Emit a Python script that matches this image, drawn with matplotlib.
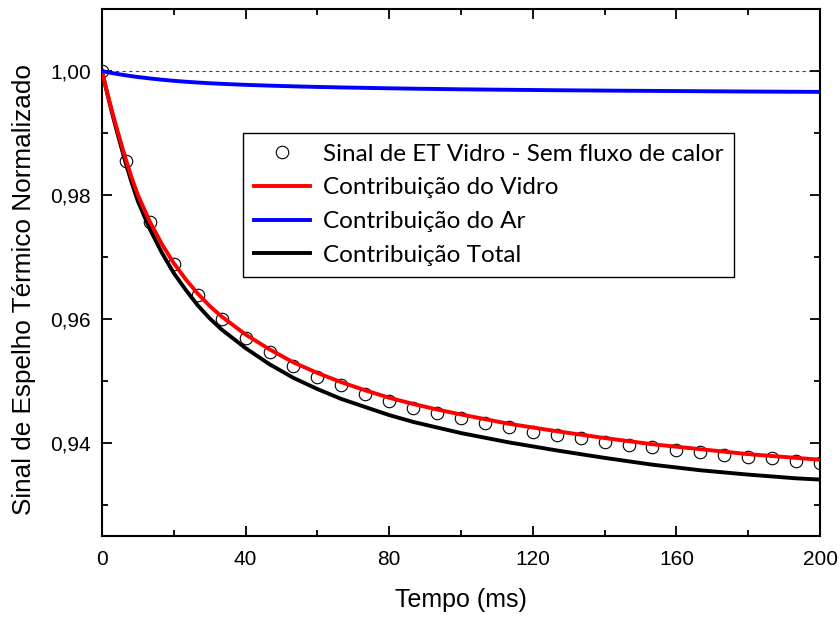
import numpy as np
import matplotlib
matplotlib.use("Agg")
import matplotlib.pyplot as plt
from matplotlib.ticker import MultipleLocator, FuncFormatter

# measured points (circles)
t_pts = [i * 20.0 / 3.0 for i in range(31)]
sinal = [1.0000, 0.9855, 0.9756, 0.9689, 0.9639, 0.9600, 0.9569, 0.9546,
         0.9524, 0.9507, 0.9493, 0.9479, 0.9467, 0.9457, 0.9448, 0.9440,
         0.9432, 0.9425, 0.9418, 0.9413, 0.9408, 0.9402, 0.9397, 0.9393,
         0.9389, 0.9385, 0.9381, 0.9378, 0.9375, 0.9371, 0.9368]

# model curves
t_fit = [0, 1, 2, 3, 4, 5, 6.67, 8.33, 10, 13.33, 16.67, 20, 23.33, 26.67,
         30, 33.33, 40, 46.67, 53.33, 60, 66.67, 73.33, 80, 86.67, 93.33,
         100, 113.33, 126.67, 140, 153.33, 166.67, 180, 193.33, 200]
vidro = [1.0000, 0.9976, 0.9953, 0.9931, 0.9910, 0.9890, 0.9857, 0.9827,
         0.9800, 0.9757, 0.9721, 0.9690, 0.9664, 0.9641, 0.9621, 0.9604,
         0.9575, 0.9551, 0.9530, 0.9513, 0.9498, 0.9485, 0.9473, 0.9463,
         0.9454, 0.9446, 0.9431, 0.9419, 0.9408, 0.9398, 0.9390, 0.9382,
         0.9376, 0.9373]
ar = [1.00000, 0.99988, 0.99976, 0.99965, 0.99955, 0.99945, 0.99930, 0.99916,
      0.99903, 0.99880, 0.99860, 0.99842, 0.99827, 0.99814, 0.99803, 0.99793,
      0.99777, 0.99764, 0.99753, 0.99743, 0.99735, 0.99728, 0.99721, 0.99715,
      0.99710, 0.99705, 0.99697, 0.99690, 0.99684, 0.99679, 0.99674, 0.99669,
      0.99665, 0.99663]
total = [1.0000, 0.9975, 0.9951, 0.9928, 0.9906, 0.9885, 0.9850, 0.9819,
         0.9790, 0.9745, 0.9707, 0.9674, 0.9647, 0.9622, 0.9601, 0.9583,
         0.9553, 0.9527, 0.9505, 0.9487, 0.9471, 0.9458, 0.9445, 0.9434,
         0.9425, 0.9416, 0.9401, 0.9388, 0.9376, 0.9365, 0.9356, 0.9349,
         0.9343, 0.9341]

plt.rcParams['font.family'] = ['Liberation Sans', 'DejaVu Sans']

fig = plt.figure(figsize=(8.4, 6.17), dpi=100)
ax = fig.add_axes([0.1214, 0.1313, 0.8548, 0.8541])

ax.axhline(1.0, color='#444444', lw=0.8, ls=(0, (3, 3)), zorder=1)
ax.plot(t_pts, sinal, 'o', ms=9, mfc='none', mec='black', mew=0.8,
        label='Sinal de ET Vidro - Sem fluxo de calor', zorder=2)
ax.plot(t_fit, total, color='black', lw=2.8, label='Contribuição Total', zorder=3)
ax.plot(t_fit, vidro, color='red', lw=2.8, label='Contribuição do Vidro', zorder=4)
ax.plot(t_fit, ar, color='blue', lw=2.8, label='Contribuição do Ar', zorder=4)

ax.set_xlim(0, 200)
ax.set_ylim(0.925, 1.01)
ax.xaxis.set_major_locator(MultipleLocator(40))
ax.xaxis.set_minor_locator(MultipleLocator(20))
ax.yaxis.set_major_locator(MultipleLocator(0.02))
ax.yaxis.set_minor_locator(MultipleLocator(0.01))
ax.yaxis.set_major_formatter(FuncFormatter(lambda v, p: f"{v:.2f}".replace('.', ',')))

ax.tick_params(which='both', direction='in', top=True, right=True, width=1.3)
ax.tick_params(which='major', length=7, labelsize=15, pad=8)
ax.tick_params(axis='x', which='major', pad=10)
ax.tick_params(which='minor', length=4)
for s in ax.spines.values():
    s.set_linewidth(1.5)

ax.set_xlabel('Tempo (ms)', fontsize=18, labelpad=14)
ax.set_ylabel('Sinal de Espelho Térmico Normalizado', fontsize=18.8)
ax.yaxis.set_label_coords(-0.092, 0.467)

h, l = ax.get_legend_handles_labels()
order = [0, 2, 3, 1]
leg = ax.legend([h[i] for i in order], [l[i] for i in order],
                loc='upper left', bbox_to_anchor=(0.196, 0.765),
                prop={'family': 'Lato', 'size': 17.5}, frameon=True, fancybox=False,
                edgecolor='black', framealpha=1, numpoints=1,
                handlelength=2.3, handletextpad=0.55, borderpad=0.45,
                labelspacing=0.52, borderaxespad=0)
leg.get_frame().set_linewidth(1.0)

fig.savefig('out.png', dpi=100)
